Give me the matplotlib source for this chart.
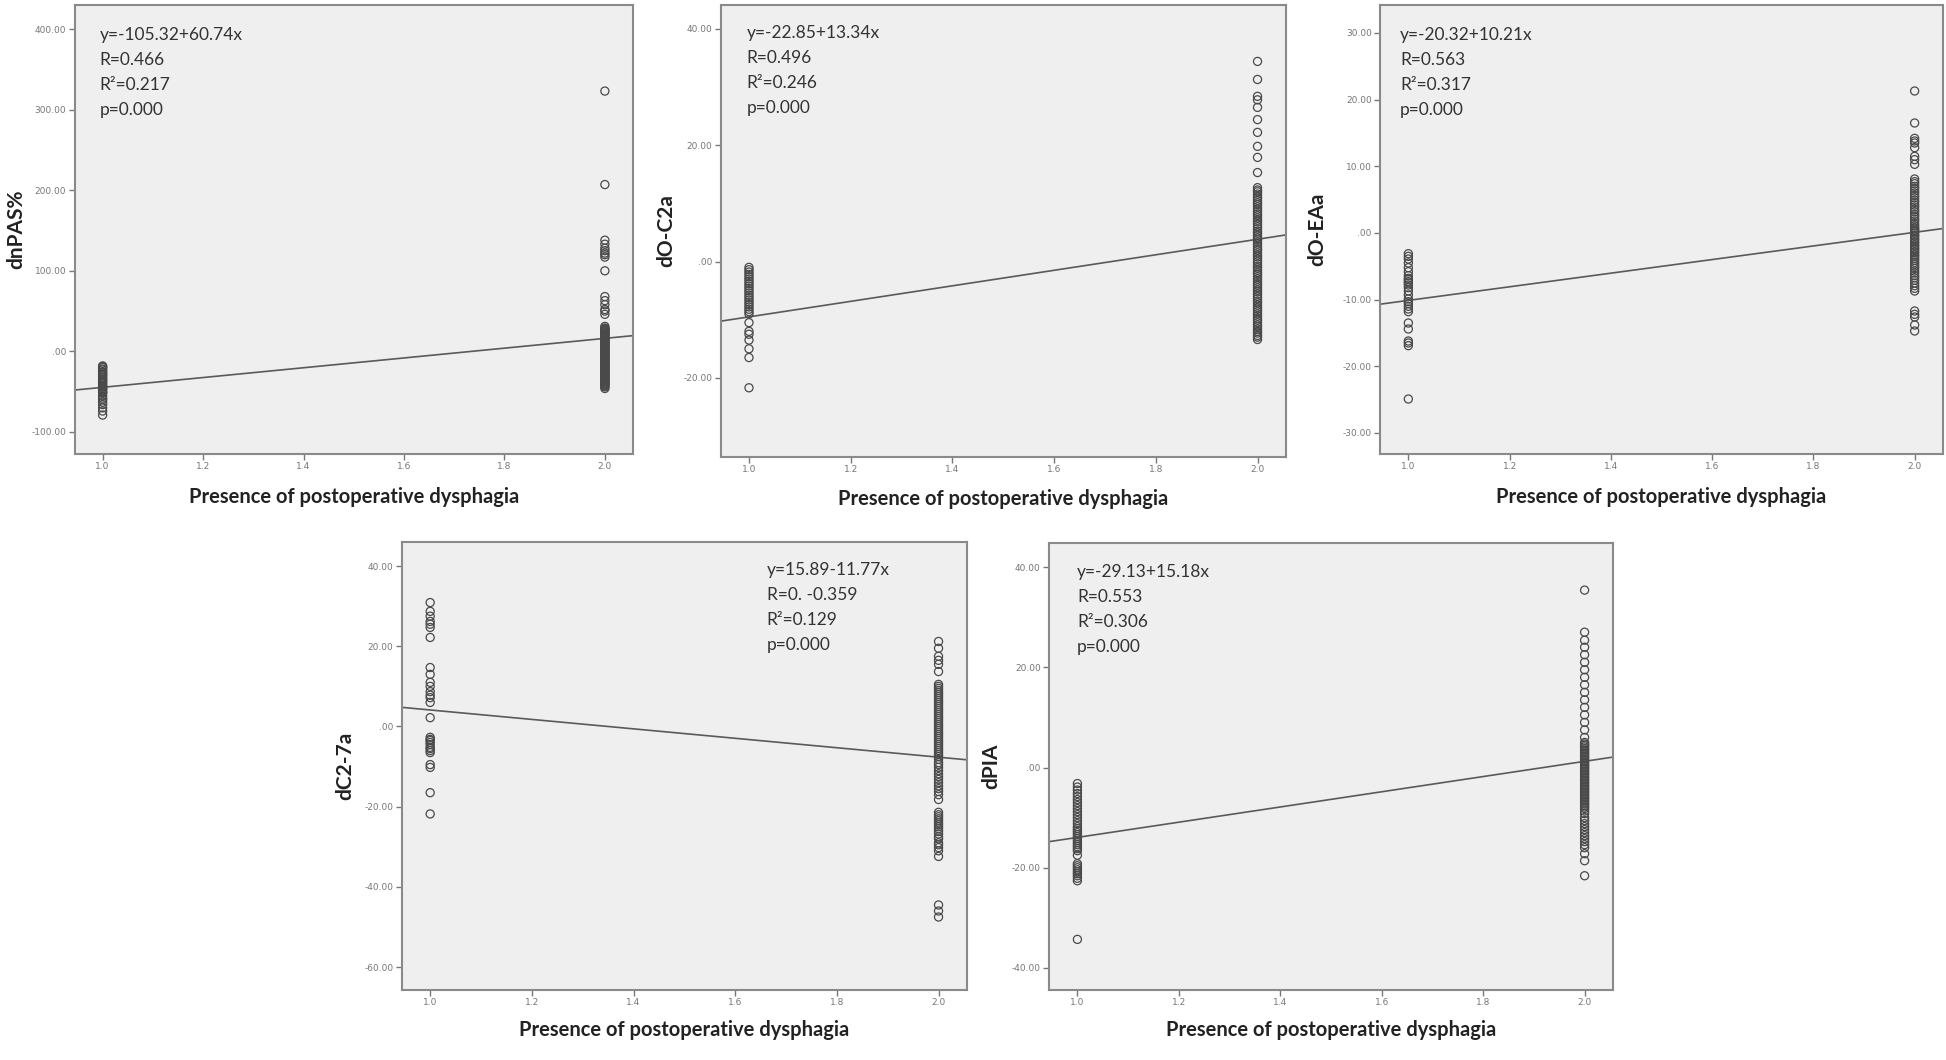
import matplotlib
matplotlib.use("Agg")
import matplotlib.pyplot as plt

plt.rcParams['font.family'] = ['Lato', 'DejaVu Sans']

# ---------------- data ----------------
group_x = [1.0, 2.0]
x_ticks = [1.0, 1.2, 1.4, 1.6, 1.8, 2.0]
x_tick_labels = ['1.0', '1.2', '1.4', '1.6', '1.8', '2.0']
x_label = 'Presence of postoperative dysphagia'

# Panel 1: dnPAS%
p1_ylabel = 'dnPAS%'
p1_g1 = [-18, -19, -20, -22, -23, -25, -26, -28, -29, -30, -32, -33, -35, -36,
         -37, -39, -40, -42, -43, -44, -46, -47, -48, -50, -51, -52, -55, -58,
         -60, -63, -66, -70, -74, -79]
p1_g2 = [-46, -44, -43, -42, -41, -40, -39, -38, -37, -36, -35, -34, -33, -32,
         -31, -30, -29, -28, -27, -26, -25, -24, -23, -22, -21, -20, -19, -18,
         -17, -16, -15, -14, -13, -12, -11, -10, -9, -8, -7, -6, -5, -4, -3,
         -2, -1, 0, 1, 2, 3, 4, 5, 6, 7, 8, 9, 10, 11, 12, 13, 14, 15, 16, 17,
         18, 19, 20, 21, 22, 23, 24, 25, 26, 27, 28, 29, 31,
         46, 50, 52, 58, 63, 68, 100, 117, 120, 122, 125, 128, 133, 138,
         207, 323]
p1_coef = (-105.32, 60.74)
p1_stats = ['y=-105.32+60.74x', 'R=0.466', 'R\u00b2=0.217', 'p=0.000']
p1_yticks = [400, 300, 200, 100, 0, -100]
p1_yticklabels = ['400.00', '300.00', '200.00', '100.00', '.00', '-100.00']

# Panel 2: dO-C2a
p2_ylabel = 'dO-C2a'
p2_g1 = [-1.0, -1.4, -1.8, -2.2, -2.6, -3.0, -3.4, -3.8, -4.2, -4.6, -5.0,
         -5.4, -5.8, -6.2, -6.6, -7.0, -7.4, -7.8, -8.2, -8.6, -9.0,
         -10.5, -12.0, -12.5, -13.5, -15.0, -16.5, -21.7]
p2_g2 = [34.4, 31.3, 28.4, 27.8, 26.5, 24.4, 22.2, 19.8, 17.9, 15.3,
         12.7, 12.3, 12.0, 11.6, 11.2, 10.9, 10.5, 10.1, 9.8, 9.4, 9.0, 8.6,
         8.2, 7.9, 7.5, 7.1, 6.8, 6.4, 6.0, 5.6, 5.2, 4.9, 4.5, 4.1, 3.8, 3.4,
         3.0, 2.6, 2.2, 1.9, 1.5, 1.1, 0.8, 0.4, 0.0, -0.4, -0.8, -1.1, -1.5,
         -1.9, -2.2, -2.6, -3.0, -3.4, -3.8, -4.1, -4.5, -4.9, -5.2, -5.6,
         -6.0, -6.4, -6.8, -7.1, -7.5, -7.9, -8.2, -8.6, -9.0, -9.4, -9.8,
         -10.1, -10.5, -10.9, -11.2, -11.6, -12.0, -12.3, -12.7, -13.0, -13.4]
p2_coef = (-22.85, 13.34)
p2_stats = ['y=-22.85+13.34x', 'R=0.496', 'R\u00b2=0.246', 'p=0.000']
p2_yticks = [40, 20, 0, -20]
p2_yticklabels = ['40.00', '20.00', '.00', '-20.00']

# Panel 3: dO-EAa
p3_ylabel = 'dO-EAa'
p3_g1 = [-3.1, -3.5, -3.9, -4.5, -5.2, -5.8, -6.4, -6.8, -7.0, -7.3, -7.5,
         -7.8, -8.2, -8.7, -9.3, -9.9, -10.3, -10.6, -11.0, -11.4, -11.8,
         -13.5, -14.4, -16.2, -16.5, -16.9, -24.9]
p3_g2 = [21.3, 16.5, 14.2, 13.8, 13.5, 12.8, 11.5, 11.0, 10.3,
         8.1, 7.7, 7.4, 7.0, 6.7, 6.3, 6.0, 5.6, 5.3, 4.9, 4.6, 4.2, 3.9, 3.5,
         3.2, 2.8, 2.5, 2.1, 1.8, 1.4, 1.1, 0.8, 0.6, 0.4, 0.2, 0.0, -0.3,
         -0.5, -0.8, -1.0, -1.3, -1.5, -1.8, -2.0, -2.3, -2.5, -2.8, -3.0,
         -3.3, -3.5, -3.8, -4.1, -4.4, -4.7, -5.0, -5.3, -5.7, -6.0, -6.4,
         -6.7, -7.1, -7.5, -7.9, -8.3, -8.7, -11.7, -12.2, -12.6, -13.8, -14.7]
p3_coef = (-20.32, 10.21)
p3_stats = ['y=-20.32+10.21x', 'R=0.563', 'R\u00b2=0.317', 'p=0.000']
p3_yticks = [30, 20, 10, 0, -10, -20, -30]
p3_yticklabels = ['30.00', '20.00', '10.00', '.00', '-10.00', '-20.00', '-30.00']

# Panel 4: dC2-7a
p4_ylabel = 'dC2-7a'
p4_g1 = [30.9, 28.7, 27.5, 26.2, 25.5, 24.7, 22.2, 14.7, 13.0, 11.0, 10.0,
         8.7, 7.8, 7.2, 6.0, 2.2, -2.7, -3.2, -3.5, -4.0, -4.5, -5.2, -5.5,
         -6.0, -6.5, -9.5, -10.2, -16.5, -21.8]
p4_g2 = [21.2, 19.5, 17.5, 16.5, 15.5, 13.7,
         10.5, 10.0, 9.5, 9.0, 8.5, 8.0, 7.5, 7.0, 6.5, 6.0, 5.5, 5.0, 4.5,
         4.0, 3.5, 3.0, 2.5, 2.0, 1.5, 1.0, 0.5, 0.0, -0.5, -1.0, -1.5, -2.0,
         -2.5, -3.0, -3.5, -4.0, -4.5, -5.0, -5.5, -6.0, -6.5, -7.0, -7.5,
         -8.2, -9.0, -9.5, -10.2, -11.0, -11.8, -12.5, -13.2, -14.0, -14.8,
         -15.5, -16.2, -17.0, -18.2, -21.4, -22.0, -22.5, -23.0, -23.5,
         -24.0, -24.5, -25.0, -25.5, -26.2, -26.8, -27.5, -28.0, -29.0,
         -29.5, -30.2, -31.0, -32.4, -44.5, -46.0, -47.5]
p4_coef = (15.89, -11.77)
p4_stats = ['y=15.89-11.77x', 'R=0. -0.359', 'R\u00b2=0.129', 'p=0.000']
p4_yticks = [40, 20, 0, -20, -40, -60]
p4_yticklabels = ['40.00', '20.00', '.00', '-20.00', '-40.00', '-60.00']

# Panel 5: dPIA
p5_ylabel = 'dPIA'
p5_g1 = [-3.2, -3.9, -4.5, -5.2, -5.8, -6.4, -7.0, -7.6, -8.2, -8.8, -9.4,
         -10.0, -10.6, -11.2, -11.8, -12.2, -12.6, -13.0, -13.4, -13.8,
         -14.2, -14.6, -15.0, -15.4, -15.8, -16.2, -16.6, -17.5, -19.2, -19.6,
         -20.0, -20.4, -20.8, -21.2, -21.6, -22.1, -22.6, -34.3]
p5_g2 = [35.4, 27.0, 25.4, 24.0, 22.5, 21.0, 19.5, 18.0, 16.5, 15.0, 13.5,
         12.0, 10.5, 9.0, 7.5, 6.0,
         5.0, 4.7, 4.4, 4.1, 3.8, 3.5, 3.2, 2.9, 2.6, 2.3, 2.0, 1.7, 1.4,
         1.1, 0.8, 0.5, 0.2, -0.1, -0.4, -0.7, -1.0, -1.3, -1.6, -1.9, -2.2,
         -2.5, -2.8, -3.1, -3.4, -3.7, -4.0, -4.3, -4.6, -4.9, -5.2, -5.5,
         -5.8, -6.1, -6.4, -6.7, -7.0, -7.3, -7.6, -7.9, -8.2, -8.7, -9.2,
         -10.0, -10.6, -11.2, -11.8, -12.4, -13.0, -13.6, -14.2, -14.8,
         -15.4, -16.0, -17.2, -18.6, -21.6]
p5_coef = (-29.13, 15.18)
p5_stats = ['y=-29.13+15.18x', 'R=0.553', 'R\u00b2=0.306', 'p=0.000']
p5_yticks = [40, 20, 0, -20, -40]
p5_yticklabels = ['40.00', '20.00', '.00', '-20.00', '-40.00']

# ---------------- layout ----------------
W, H = 1946, 1060
fig = plt.figure(figsize=(W / 100, H / 100), dpi=100)
fig.patch.set_facecolor('white')

FACE = '#efefef'
SPINE = '#8a8a8a'
MARK = '#4a4a4a'


def panel(rect, ylabel, g1, g2, coef, stats, ylim, yticks, yticklabels,
          text_dx, text_dy, ylab_off, xlab_off):
    l, t, r, b = rect
    aw, ah = r - l, b - t
    ax = fig.add_axes([l / W, 1 - b / H, aw / W, ah / H])
    ax.set_facecolor(FACE)
    for sp in ax.spines.values():
        sp.set_color(SPINE)
        sp.set_linewidth(1.5)
    ax.axline((0, coef[0]), slope=coef[1], color='#5a5a5a', lw=1.2, zorder=2)
    ax.scatter([group_x[0]] * len(g1), g1, s=34, facecolors='none',
               edgecolors=MARK, linewidths=0.9, zorder=3)
    ax.scatter([group_x[1]] * len(g2), g2, s=34, facecolors='none',
               edgecolors=MARK, linewidths=0.9, zorder=3)
    ax.set_xlim(0.944, 2.056)
    ax.set_ylim(*ylim)
    ax.set_xticks(x_ticks)
    ax.set_xticklabels(x_tick_labels)
    ax.set_yticks(yticks)
    ax.set_yticklabels(yticklabels)
    ax.tick_params(axis='both', direction='out', length=4, width=1,
                   color='#777777', labelcolor='#777777', labelsize=6.5, pad=2)
    for lab in ax.get_xticklabels() + ax.get_yticklabels():
        lab.set_family(['DejaVu Sans'])
    ax.set_ylabel(ylabel, fontsize=15, fontweight='bold', color='#222222',
                  va='center')
    ax.yaxis.set_label_coords(-ylab_off / aw, 0.5)
    ax.set_xlabel(x_label, fontsize=14.5, fontweight='bold', color='#222222',
                  va='center')
    ax.xaxis.set_label_coords(0.5, -xlab_off / ah)
    for i, s in enumerate(stats):
        ax.text(text_dx / aw, 1 - (text_dy + 25 * i) / ah, s,
                transform=ax.transAxes, ha='left', va='center',
                fontsize=12.5, color='#333333')
    return ax


panel((74.5, 5, 633, 454), p1_ylabel, p1_g1, p1_g2, p1_coef, p1_stats,
      (-127.3, 429.8), p1_yticks, p1_yticklabels, 25, 30, 58, 43)
panel((720.5, 5, 1286, 457), p2_ylabel, p2_g1, p2_g2, p2_coef, p2_stats,
      (-33.6, 44.1), p2_yticks, p2_yticklabels, 26, 28, 54, 42)
panel((1380, 5, 1943, 454), p3_ylabel, p3_g1, p3_g2, p3_coef, p3_stats,
      (-33.15, 34.2), p3_yticks, p3_yticklabels, 20, 30, 63, 43)
panel((401.7, 542, 967, 990), p4_ylabel, p4_g1, p4_g2, p4_coef, p4_stats,
      (-65.7, 46.0), p4_yticks, p4_yticklabels, 365, 28, 56, 40)
panel((1049, 543, 1613, 990), p5_ylabel, p5_g1, p5_g2, p5_coef, p5_stats,
      (-44.4, 44.8), p5_yticks, p5_yticklabels, 28, 29, 58, 40)

fig.savefig('out.png', dpi=100, facecolor='white')
